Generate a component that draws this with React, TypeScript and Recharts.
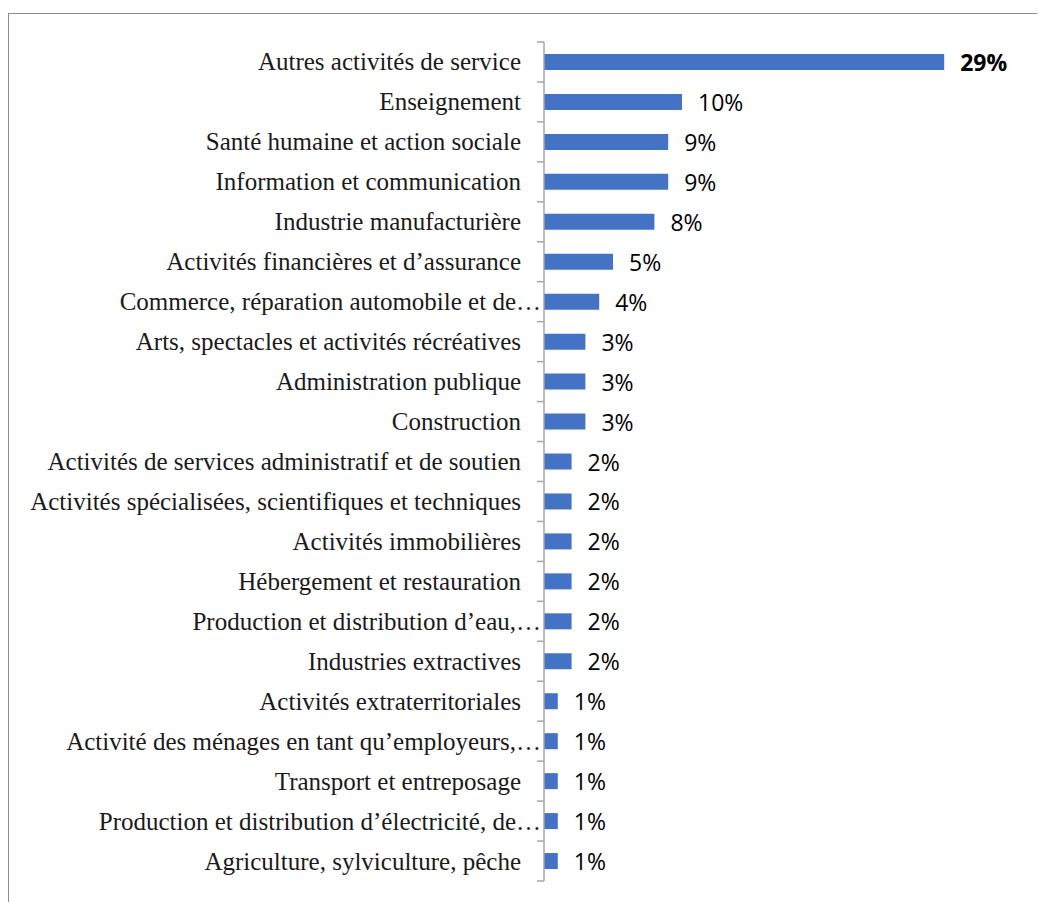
import React from "react";
import { BarChart, Bar, XAxis, YAxis, LabelList } from "recharts";

const categories = [
  "Autres activités de service",
  "Enseignement",
  "Santé humaine et action sociale",
  "Information et communication",
  "Industrie manufacturière",
  "Activités financières et d’assurance",
  "Commerce, réparation automobile et de…",
  "Arts, spectacles et activités récréatives",
  "Administration publique",
  "Construction",
  "Activités de services administratif et de soutien",
  "Activités spécialisées, scientifiques et techniques",
  "Activités immobilières",
  "Hébergement et restauration",
  "Production et distribution d’eau,…",
  "Industries extractives",
  "Activités extraterritoriales",
  "Activité des ménages en tant qu’employeurs,…",
  "Transport et entreposage",
  "Production et distribution d’électricité, de…",
  "Agriculture, sylviculture, pêche",
];

const values = [29, 10, 9, 9, 8, 5, 4, 3, 3, 3, 2, 2, 2, 2, 2, 2, 1, 1, 1, 1, 1];
const valueLabels = ["29%", "10%", "9%", "9%", "8%", "5%", "4%", "3%", "3%", "3%", "2%", "2%", "2%", "2%", "2%", "2%", "1%", "1%", "1%", "1%", "1%"];

const data = categories.map((name, i) => ({ name, value: values[i], label: valueLabels[i] }));

const CHART_W = 1036;
const CHART_H = 890;
const M_TOP = 28;
const M_BOTTOM = 23;
const BAND = (CHART_H - M_TOP - M_BOTTOM) / categories.length;

const YTick = (props: any) => {
  const { x, y, payload, index } = props;
  const ax = x + 23;
  const truncated = String(payload.value).endsWith("…");
  return (
    <g>
      <text
        x={truncated ? x + 20 : x}
        y={y}
        textAnchor="end"
        dominantBaseline="central"
        fontFamily="'Liberation Serif', 'Times New Roman', serif"
        fontSize={25}
        fill="#1a1a1a"
      >
        {payload.value}
      </text>
      <line x1={ax - 7} x2={ax} y1={y - BAND / 2} y2={y - BAND / 2} stroke="#a6a6a6" strokeWidth={1.5} />
      {index === categories.length - 1 && (
        <line x1={ax - 7} x2={ax} y1={y + BAND / 2} y2={y + BAND / 2} stroke="#a6a6a6" strokeWidth={1.5} />
      )}
    </g>
  );
};

const ValueLabel = (props: any) => {
  const { x, y, width, height, index } = props;
  return (
    <text
      x={x + width + 16}
      y={y + height / 2}
      dominantBaseline="central"
      fontFamily="'Open Sans', 'Noto Sans', sans-serif"
      fontSize={23}
      fontWeight={index === 0 ? 700 : 400}
      fill="#000"
    >
      {valueLabels[index]}
    </text>
  );
};

export default function App() {
  return (
    <div
      style={{
        marginTop: 5,
        width: 1040,
        height: 895,
        borderTop: "1.5px solid #8c8c8c",
        borderLeft: "1.5px solid #8c8c8c",
        boxSizing: "border-box",
        background: "#fff",
      }}
    >
      <BarChart
        width={CHART_W}
        height={CHART_H}
        data={data}
        layout="vertical"
        margin={{ top: M_TOP, right: 18, bottom: M_BOTTOM, left: 0 }}
        barCategoryGap="30%"
      >
        <XAxis type="number" domain={[0, 35]} hide />
        <YAxis
          type="category"
          dataKey="name"
          width={535}
          tickLine={false}
          tickSize={7}
          tickMargin={16}
          axisLine={{ stroke: "#a6a6a6", strokeWidth: 1.5 }}
          tick={<YTick />}
          interval={0}
        />
        <Bar dataKey="value" fill="#4472C4" isAnimationActive={false}>
          <LabelList dataKey="label" content={<ValueLabel />} />
        </Bar>
      </BarChart>
    </div>
  );
}
